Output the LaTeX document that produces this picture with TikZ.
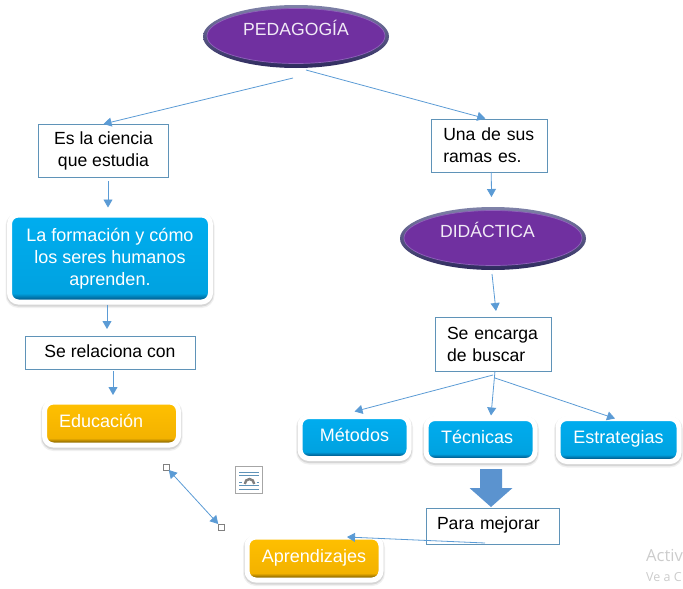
\documentclass[tikz,border=0pt]{standalone}
\usepackage{fontspec}
\setmainfont{Liberation Sans}
\newfontfamily\wmfont{Open Sans}
\usetikzlibrary{arrows.meta,shapes.geometric}
\definecolor{linkblue}{HTML}{5B9BD5}
\definecolor{arrowblue}{HTML}{5B93CF}
\definecolor{boxblue}{HTML}{5F93B8}
\definecolor{grape}{HTML}{7030A0}
\definecolor{grapetop}{HTML}{7F82A8}
\definecolor{grapeedge}{HTML}{2E2A5E}
\definecolor{grapelight}{HTML}{8F62BA}
\definecolor{bluedark}{HTML}{00669A}
\definecolor{bluemid}{HTML}{00A2E0}
\definecolor{bluetop}{HTML}{00ADEF}
\definecolor{golddark}{HTML}{9C7400}
\definecolor{goldmid}{HTML}{F3B200}
\definecolor{goldtop}{HTML}{FFC000}
\pgfdeclareverticalshading{btnblue}{100bp}{color(0bp)=(bluedark); color(29bp)=(bluedark); color(33bp)=(bluemid); color(75bp)=(bluetop); color(100bp)=(bluetop)}
\pgfdeclareverticalshading{btntall}{100bp}{color(0bp)=(bluedark); color(27bp)=(bluedark); color(30bp)=(bluemid); color(75bp)=(bluetop); color(100bp)=(bluetop)}
\pgfdeclareverticalshading{btngold}{100bp}{color(0bp)=(golddark); color(29bp)=(golddark); color(33bp)=(goldmid); color(75bp)=(goldtop); color(100bp)=(goldtop)}

\begin{document}
\begin{tikzpicture}[x=1pt,y=-1pt,
	every node/.style={font=\fontsize{17.6}{22}\selectfont},
	box node/.style={draw=boxblue,line width=0.8pt,fill=white,inner sep=0pt,outer sep=0pt},
	btn node/.style={draw=white,line width=5pt,rounded corners=9pt,text=white,inner sep=0pt,outer sep=0pt,
		font=\fontsize{18}{22}\selectfont,
		preaction={draw=black!6,line width=8pt,transform canvas={yshift=-2pt}},
		preaction={draw=black!16,line width=6pt,transform canvas={yshift=-1.5pt}}},
	blue node/.style={btn node,shading=btnblue},
	gold node/.style={btn node,shading=btngold},
	one line/.style={text height=13pt,text depth=4pt},
	btn line/.style={text height=13pt,text depth=6pt},
	oval node/.style={ellipse,top color=grapetop,bottom color=grapeedge,inner sep=0pt,outer sep=0pt,
		text=white!90!grape,minimum width=186pt,minimum height=63pt,text height=13pt,text depth=15pt,
		path picture={\draw[fill=grape,draw=grapelight,line width=0.7pt] ([yshift=0.5pt]path picture bounding box.center) ellipse (89pt and 27.5pt);}},
	link/.style={draw=linkblue,line width=0.8pt,-{Triangle[length=8pt,width=9pt]}},
	handle node/.style={draw=gray,fill=white,line width=0.6pt,minimum size=6pt,inner sep=0pt,outer sep=0pt}]

\useasboundingbox (0,0) rectangle (683,589);

% purple ovals
\node at (296,36.5) [oval node] (pedagogia) {PEDAGOGÍA};
\node at (493,238.5) [oval node] (didactica) {\hspace*{-11pt}DIDÁCTICA};

% left branch
\node at (103.5,150.5) [box node,minimum width=130pt,minimum height=53pt,align=center] (ciencia) {Es la ciencia\\que estudia};
\node at (110,258.5) [btn node,shading=btntall,minimum width=201pt,minimum height=87pt,align=center] (formacion) {La formación y cómo\\los seres humanos\\aprenden.};
\node at (110,352.5) [box node,minimum width=170pt,minimum height=33pt,one line] (relaciona) {Se relaciona con};
\node at (111.5,423.5) [gold node,minimum width=134pt,minimum height=43pt,btn line,text width=105pt,inner xsep=14.5pt,align=left] (educacion) {Educación};

% right branch
\node at (489.25,145.5) [box node,minimum height=53pt,text width=92pt,inner xsep=11.8pt,align=left] (ramas) {Una de sus\\ramas es.};
\node at (493,344) [box node,minimum height=54pt,text width=92pt,inner xsep=12pt,align=left] (encarga) {Se encarga\\de buscar};
\node at (354.5,437.5) [blue node,minimum width=109pt,minimum height=42pt,btn line] (metodos) {Métodos};
\node at (480.5,439.5) [blue node,minimum width=109pt,minimum height=42pt,btn line,text width=79pt,inner xsep=15pt,align=left] (tecnicas) {Técnicas};
\node at (618.5,440) [blue node,minimum width=121pt,minimum height=43pt,btn line] (estrategias) {Estrategias};
\node at (492.5,526) [box node,minimum width=133pt,minimum height=36pt,text height=16pt,text depth=9pt,text width=111pt,inner xsep=11pt,align=left] (mejorar) {Para mejorar};
\node at (314,558.5) [gold node,minimum width=134pt,minimum height=43pt,btn line] (aprendizajes) {Aprendizajes};

% block arrow
\fill[arrowblue] (480,469) -- (502,469) -- (502,488) -- (512.5,488) -- (491,507) -- (469.5,488) -- (480,488) -- cycle;

% selected connector with its handles
\node at (166,467) [handle node] (handleA) {};
\node at (221,527) [handle node] (handleB) {};
\draw[link,{Triangle[length=8pt,width=9pt]}-{Triangle[length=8pt,width=9pt]}] (handleA) -- (handleB);

% free ends
\coordinate (pedL) at (293,78);
\coordinate (pedR) at (306,70);

\draw[link] (pedL) -- (ciencia.north);
\draw[link,shorten >=2pt] (pedR) -- ([xshift=-2pt]ramas.north);
\draw[link] ([xshift=4.5pt,yshift=-4pt]ciencia.south) -- ([xshift=-2pt,yshift=7.5pt]formacion.north);
\draw[link] ([xshift=-3pt,yshift=-2.5pt]formacion.south) -- ([xshift=-3pt,yshift=7pt]relaciona.north);
\draw[link] ([xshift=3pt,yshift=-2pt]relaciona.south) -- ([xshift=1.5pt,yshift=7pt]educacion.north);
\draw[link] ([xshift=2pt]ramas.south) -- ([xshift=-1.5pt,yshift=10pt]didactica.north);
\draw[link] ([xshift=-1pt,yshift=-4pt]didactica.south) -- ([xshift=3pt,yshift=6pt]encarga.north);
\draw[link] ([yshift=-4pt]encarga.south) -- ([yshift=5pt]metodos.north);
\draw[link] ([xshift=2pt]encarga.south) -- ([xshift=10.5pt,yshift=3pt]tecnicas.north);
\draw[link] ([xshift=2pt,yshift=-7pt]encarga.south) -- ([xshift=-3.5pt]estrategias.north);
\draw[link] ([xshift=-7.5pt,yshift=1pt]mejorar.south) -- ([xshift=33pt]aprendizajes.north);

% wrap icon
\node at (249,479.5) [draw=gray!70,fill=white,line width=0.8pt,minimum width=27pt,minimum height=27pt,inner sep=0pt] (wrapicon) {};
\draw[boxblue,line width=1pt] (239,472) -- (259,472) (239,475) -- (259,475) (239,482) -- (241.5,482) (256.5,482) -- (259,482) (239,485.5) -- (259,485.5) (239,489) -- (259,489);
\draw[gray,line width=2.4pt] (244.8,484) arc (180:0:4.7 and -5);

% watermark
\node at (646,555) [anchor=west,inner sep=0pt,text=gray!40,font=\wmfont\fontsize{16.6}{17}\selectfont] (activ) {Activ};
\node at (646,577) [anchor=west,inner sep=0pt,text=gray!40,font=\wmfont\fontsize{12.5}{13}\selectfont] (vea) {Ve a C};

\end{tikzpicture}
\end{document}
